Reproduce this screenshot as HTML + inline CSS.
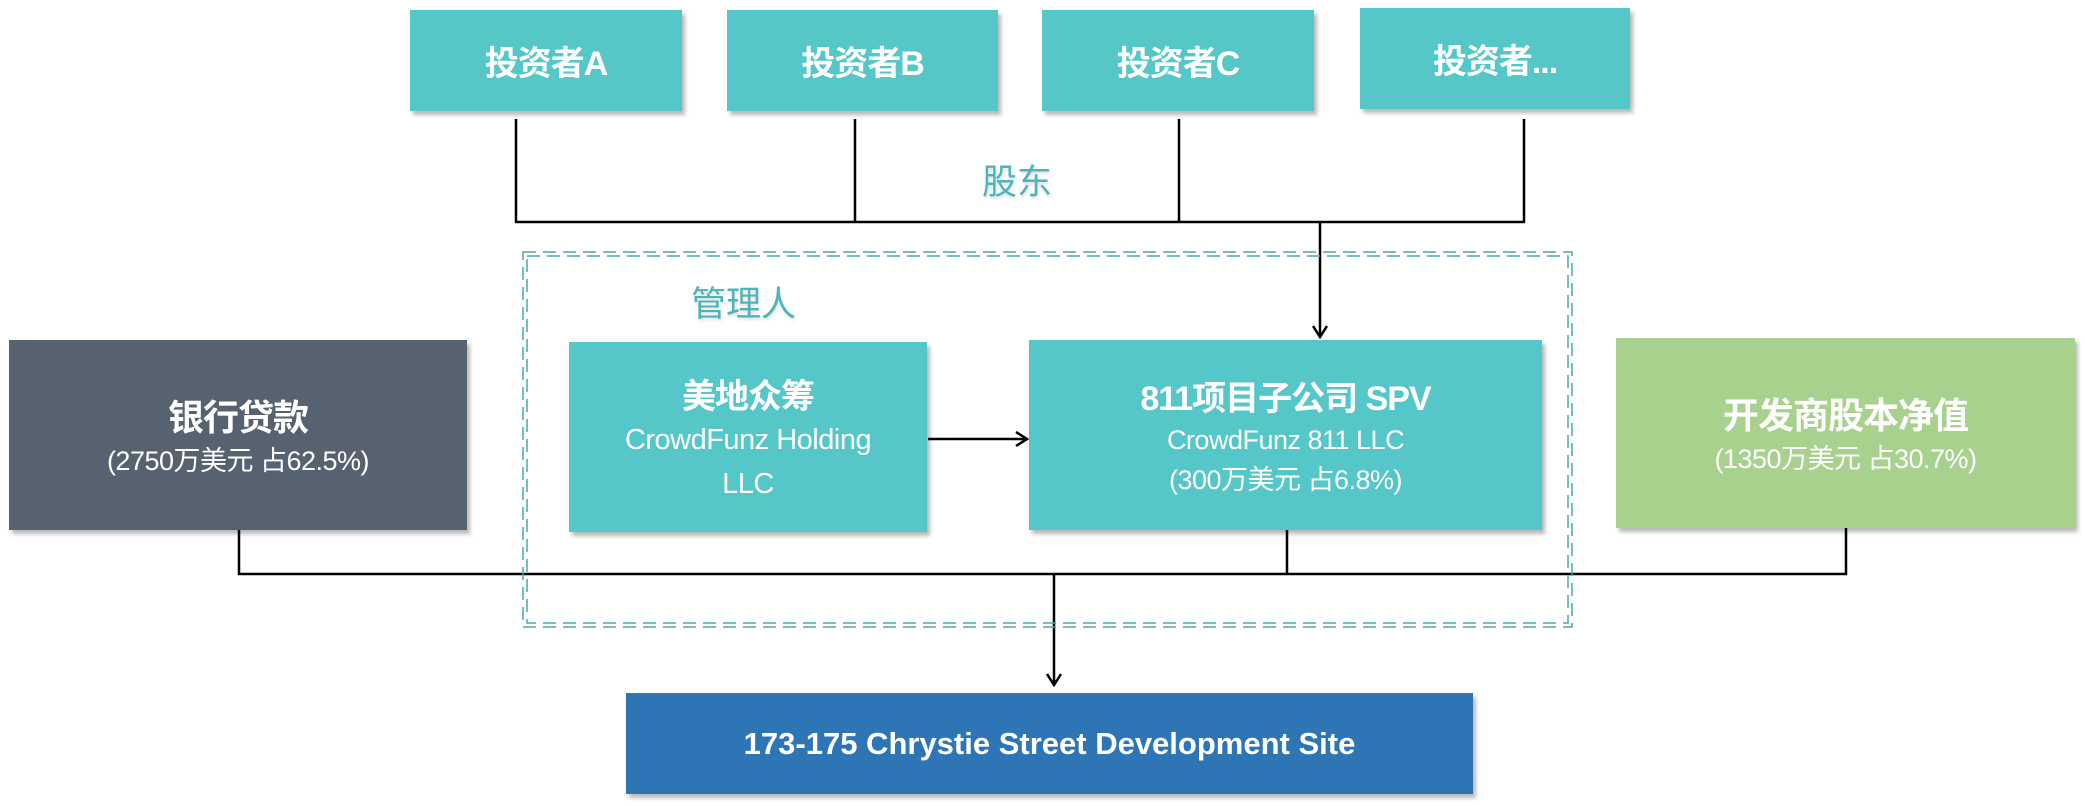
<!DOCTYPE html>
<html><head><meta charset="utf-8"><style>
body{margin:0;width:2085px;height:806px;background:#fff;position:relative;overflow:hidden;font-family:"Liberation Sans","Noto Sans CJK SC",sans-serif}
.b{position:absolute;display:flex;flex-direction:column;align-items:center;justify-content:center;color:#fff;text-align:center;box-shadow:3px 4px 4px rgba(0,0,0,.28)}
.t{background:#56c7c9}
.h{font-weight:bold;font-size:34px;letter-spacing:-1px}
.s{font-size:27px;line-height:40px;letter-spacing:-0.5px}
.lab{position:absolute;color:#4db5ba;font-size:35px;text-shadow:1px 2px 3px rgba(0,0,0,.15)}
</style></head><body>
<svg width="2085" height="806" style="position:absolute;left:0;top:0">
<defs><marker id="a" markerWidth="16" markerHeight="16" refX="14" refY="8" orient="auto" markerUnits="userSpaceOnUse"><path d="M3,1 L14,8 L3,15" fill="none" stroke="#000" stroke-width="2.5"/></marker></defs>
<g stroke="#000" stroke-width="2.5" fill="none">
<path d="M516,119V222H1524V119M855,119V222M1179,119V222"/>
<path d="M1320,222V337" marker-end="url(#a)"/>
<path d="M239,530V574H1846V528M1287,530V574"/>
<path d="M1054,574V685" marker-end="url(#a)"/>
<path d="M928,439H1027" marker-end="url(#a)"/>
</g>
<g fill="none" stroke="#4aa8ad" stroke-width="1.5" stroke-dasharray="13,7">
<rect x="523" y="252" width="1049" height="375"/>
<rect x="527" y="256" width="1041" height="367"/>
</g>
</svg>
<div class="b t h" style="left:410px;top:10px;width:272px;height:101px">投资者A</div>
<div class="b t h" style="left:727px;top:10px;width:271px;height:101px">投资者B</div>
<div class="b t h" style="left:1042px;top:10px;width:272px;height:101px">投资者C</div>
<div class="b t h" style="left:1360px;top:8px;width:270px;height:101px">投资者...</div>
<div class="lab" style="left:982px;top:154px">股东</div>
<div class="lab" style="left:691px;top:276px">管理人</div>
<div class="b" style="left:9px;top:340px;width:458px;height:190px;background:#566270"><div class="h" style="font-size:36px">银行贷款</div><div class="s">(2750万美元 占62.5%)</div></div>
<div class="b t" style="left:569px;top:342px;width:358px;height:190px"><div class="h">美地众筹</div><div class="s" style="font-size:29px;line-height:44px">CrowdFunz Holding<br>LLC</div></div>
<div class="b t" style="left:1029px;top:340px;width:513px;height:190px"><div class="h">811项目子公司 SPV</div><div class="s">CrowdFunz 811 LLC<br>(300万美元 占6.8%)</div></div>
<div class="b" style="left:1616px;top:338px;width:459px;height:190px;background:#a9d18e"><div class="h" style="font-size:36px">开发商股本净值</div><div class="s">(1350万美元 占30.7%)</div></div>
<div class="b h" style="left:626px;top:693px;width:847px;height:101px;background:#2e75b6;font-size:31px;letter-spacing:0">173-175 Chrystie Street Development Site</div>
</body></html>
